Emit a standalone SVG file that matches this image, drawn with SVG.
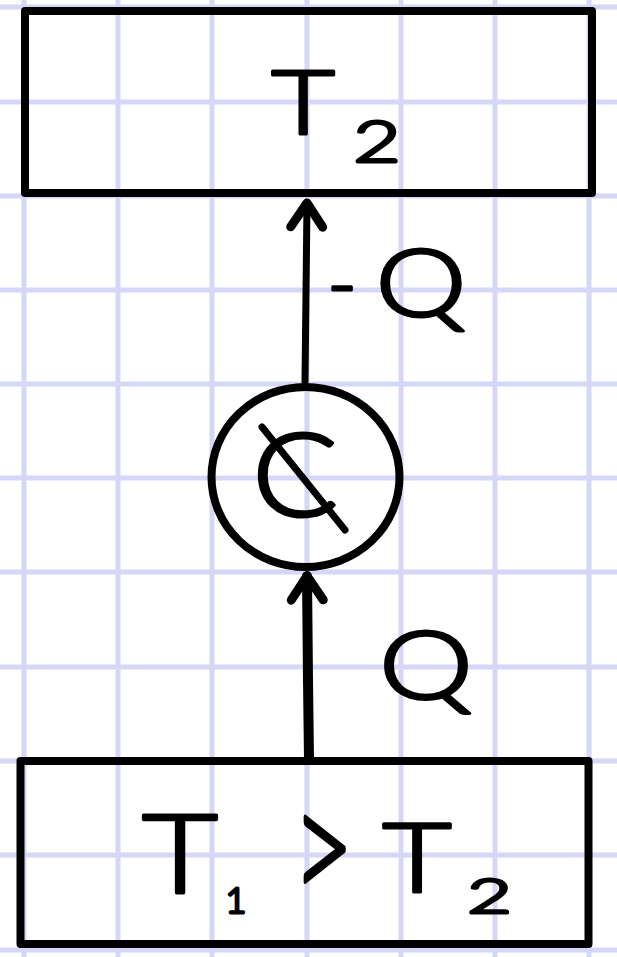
<svg xmlns="http://www.w3.org/2000/svg" width="617" height="957" viewBox="0 0 617 957">
  <style>
    .grid line { stroke: #d6d7f6; stroke-width: 5; }
    .frame { fill: none; stroke: #000; stroke-width: 8; stroke-linejoin: round; }
    .hw { font-family: "Lato", "Liberation Sans", Arial, sans-serif; font-weight: 300; fill: #000; stroke: #000; stroke-width: 3; stroke-linejoin: round; text-anchor: middle; }
    .conn { fill: none; stroke: #000; stroke-linecap: round; stroke-linejoin: round; }
  </style>
  <defs>
    <marker id="arrow" markerUnits="userSpaceOnUse" viewBox="-40 -30 60 60" markerWidth="60" markerHeight="60" refX="0" refY="0" orient="auto" overflow="visible">
      <path d="M-24,-16 L0,0 L-24,16" fill="none" stroke="#000" stroke-width="9" stroke-linecap="round" stroke-linejoin="round"/>
    </marker>
  </defs>
  <rect width="617" height="957" fill="#ffffff"/>
  <g class="grid">
    <line x1="24" y1="0" x2="24" y2="957"/>
    <line x1="118" y1="0" x2="118" y2="957"/>
    <line x1="212" y1="0" x2="212" y2="957"/>
    <line x1="307" y1="0" x2="307" y2="957"/>
    <line x1="401" y1="0" x2="401" y2="957"/>
    <line x1="495" y1="0" x2="495" y2="957"/>
    <line x1="589" y1="0" x2="589" y2="957"/>
    <line x1="0" y1="7" x2="617" y2="7"/>
    <line x1="0" y1="102" x2="617" y2="102"/>
    <line x1="0" y1="196" x2="617" y2="196"/>
    <line x1="0" y1="290" x2="617" y2="290"/>
    <line x1="0" y1="384" x2="617" y2="384"/>
    <line x1="0" y1="478" x2="617" y2="478"/>
    <line x1="0" y1="572" x2="617" y2="572"/>
    <line x1="0" y1="667" x2="617" y2="667"/>
    <line x1="0" y1="761" x2="617" y2="761"/>
    <line x1="0" y1="855" x2="617" y2="855"/>
    <line x1="0" y1="950" x2="617" y2="950"/>
  </g>
  <g id="connectors">
    <path class="conn" d="M305,382 L307,203" stroke-width="7" marker-end="url(#arrow)"/>
    <path class="conn" d="M309,760 L308,680 L307,576" stroke-width="10" marker-end="url(#arrow)"/>
    <g id="label-minus-q">
      <text class="hw" x="342" y="312" font-size="80" stroke-width="3">-</text>
      <text class="hw" font-size="92" stroke-width="4.5" transform="translate(421,316) scale(1.25,1)">Q</text>
    </g>
    <g id="label-q">
      <text class="hw" font-size="95" stroke-width="4.5" transform="translate(426,699) scale(1.25,1)">Q</text>
    </g>
  </g>
  <g id="reservoir-cold">
    <rect class="frame" x="25" y="11" width="567" height="182"/>
    <text class="hw" font-size="88" transform="translate(303,134) scale(1.25,1)">T</text>
    <text class="hw" font-size="57" transform="translate(377,162) scale(1.45,1)">2</text>
  </g>
  <g id="machine">
    <ellipse class="frame" cx="305.5" cy="477" rx="94" ry="90"/>
    <text class="hw" font-size="116" transform="translate(295,516) scale(1.1,1)">C</text>
    <line x1="262" y1="427" x2="345" y2="530" stroke="#000" stroke-width="7" stroke-linecap="round"/>
  </g>
  <g id="reservoir-hot">
    <rect class="frame" x="20.5" y="761" width="568" height="183"/>
    <text class="hw" font-size="110" transform="translate(180,893) scale(1.2,1)">T</text>
    <text class="hw" x="236" y="913" font-size="36">1</text>
    <text class="hw" font-size="110" stroke-width="1" transform="translate(323,903) scale(0.95,1.45)">&gt;</text>
    <text class="hw" font-size="96" transform="translate(417,892) scale(1.25,1)">T</text>
    <text class="hw" font-size="48" transform="translate(489.5,913) scale(1.6,1)">2</text>
  </g>
</svg>
